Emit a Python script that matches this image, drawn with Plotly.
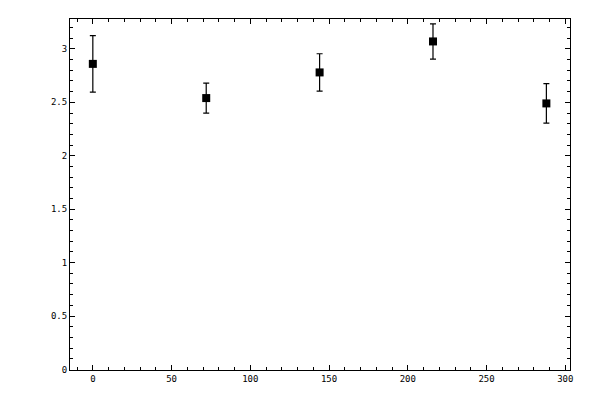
import plotly.graph_objects as go

# Measured values with symmetric errors
x_vals = [0, 72, 144, 216, 288]
y_vals = [2.86, 2.54, 2.78, 3.07, 2.49]
y_err = [0.265, 0.14, 0.175, 0.165, 0.185]

fig = go.Figure()

fig.add_trace(
    go.Scatter(
        x=x_vals,
        y=y_vals,
        mode="markers",
        marker=dict(color="black", size=8, symbol="square"),
        error_y=dict(type="data", array=y_err, color="black", thickness=1.2, width=3),
        showlegend=False,
    )
)

axis_common = dict(
    showgrid=False,
    zeroline=False,
    showline=True,
    linecolor="black",
    linewidth=1,
    mirror="allticks",
    ticks="inside",
    ticklen=5,
    tickwidth=1,
    tickcolor="black",
    tickfont=dict(family="DejaVu Sans Mono", size=9, color="black"),
)

# margins account for the 8px page offset of the html body
fig.update_layout(
    width=600,
    height=400,
    plot_bgcolor="white",
    paper_bgcolor="white",
    margin=dict(l=62, r=38, t=11, b=38),
    xaxis=dict(
        range=[-14.5, 303],
        tickmode="array",
        tickvals=[0, 50, 100, 150, 200, 250, 300],
        minor=dict(dtick=10, tick0=0, ticks="inside", ticklen=3, tickcolor="black"),
        **axis_common,
    ),
    yaxis=dict(
        range=[-0.005, 3.28],
        tickmode="array",
        tickvals=[0, 0.5, 1, 1.5, 2, 2.5, 3],
        ticktext=["0", "0.5", "1", "1.5", "2", "2.5", "3"],
        minor=dict(dtick=0.1, tick0=0, ticks="inside", ticklen=3, tickcolor="black"),
        **axis_common,
    ),
)

fig.write_html("out.html")
